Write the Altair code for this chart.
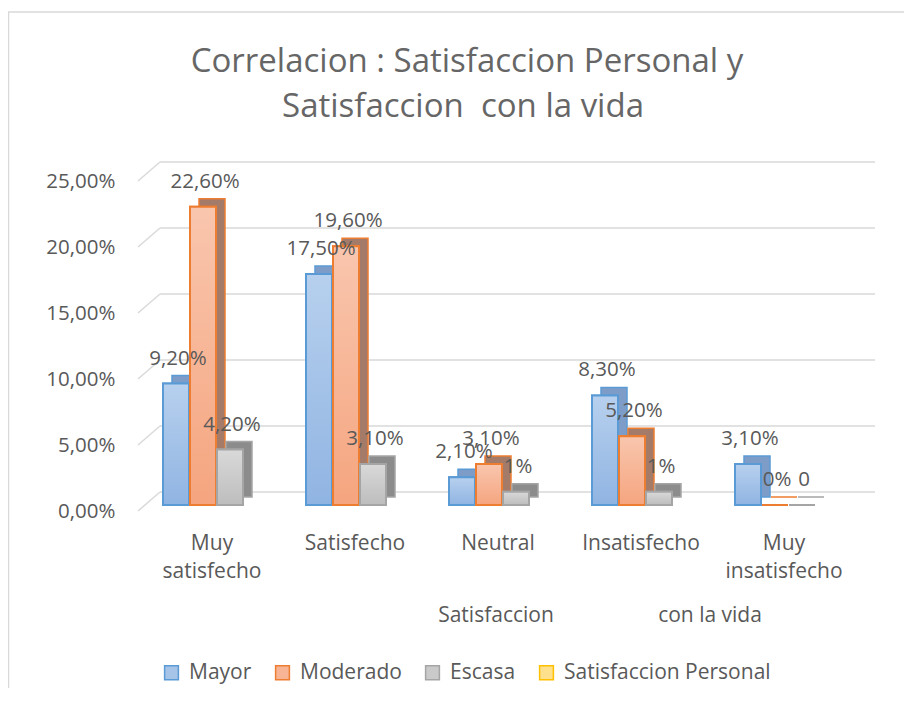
import altair as alt
import pandas as pd

categories = ["Muy satisfecho", "Satisfecho", "Neutral", "Insatisfecho", "Muy insatisfecho"]
series = ["Mayor", "Moderado", "Escasa", "Satisfaccion Personal"]
mayor = [9.2, 17.5, 2.1, 8.3, 3.1]
moderado = [22.6, 19.6, 3.1, 5.2, 0.0]
escasa = [4.2, 3.1, 1.0, 1.0, 0.0]
mayor_labels = ["9,20%", "17,50%", "2,10%", "8,30%", "3,10%"]
moderado_labels = ["22,60%", "19,60%", "3,10%", "5,20%", "0%"]
escasa_labels = ["4,20%", "3,10%", "1%", "1%", "0"]
y_ticks = [0, 5, 10, 15, 20, 25]

title_line1 = "Correlacion : Satisfaccion Personal y"
title_line2 = "Satisfaccion\u00a0 con la vida"
xtitle_part1 = "Satisfaccion"
xtitle_part2 = "con la vida"

FONT = "Open Sans"
GREY = "#595959"
TITLE_GREY = "#666666"
fills = ["#a6c3e8", "#f7b595", "#cacaca", "#ffe08c"]
strokes = ["#5b9bd5", "#ed7d31", "#a5a5a5", "#ffc000"]
grad_top = ["#b7d0ee", "#f9c6ae", "#d9d9d9"]
grad_bot = ["#90b4e2", "#f5a57f", "#bdbdbd"]
backs = ["#7d9dc8", "#a37b68", "#8c8c8c"]
offsets = [-27, 0, 27]

rows = []
for vals, labs, s in [(mayor, mayor_labels, "Mayor"), (moderado, moderado_labels, "Moderado"), (escasa, escasa_labels, "Escasa")]:
    for c, v, l in zip(categories, vals, labs):
        rows.append({"cat": c, "serie": s, "value": v, "label": l})
df = pd.DataFrame(rows)
ticks_df = pd.DataFrame({"tick": y_ticks})
one = pd.DataFrame({"k": [0]})

W, H = 737, 330
xscale = alt.Scale(domain=categories, range=[-6.5, 708.5], paddingInner=0, paddingOuter=0)
yscale = alt.Scale(domain=[0, 25], nice=False, zero=True)

x_axis = alt.Axis(
    title=None, domain=False, ticks=False, tickSize=0, labelAngle=0, grid=False,
    labelExpr="split(datum.label, ' ')", labelFontSize=21, labelFont=FONT,
    labelColor=GREY, labelPadding=27, labelLineHeight=28, labelOffset=9,
)
y_axis = alt.Axis(
    title=None, domain=False, ticks=False, tickSize=0, grid=False, values=y_ticks,
    labelExpr="replace(format(datum.value, '.2f'), '.', ',') + '%'",
    labelFontSize=20.5, labelFont=FONT, labelColor=GREY, labelPadding=23, labelOffset=6,
)

X = alt.X("cat:N", sort=categories, scale=xscale, axis=x_axis)
Y = alt.Y("value:Q", scale=yscale, axis=y_axis)

base = alt.Chart(df)

grid_h = alt.Chart(ticks_df).mark_rule(color="#d9d9d9", strokeWidth=1.5, yOffset=-13).encode(
    y=alt.Y("tick:Q", scale=yscale, axis=y_axis), x=alt.value(22), x2=alt.value(W)
)
grid_d = alt.Chart(ticks_df).mark_rule(color="#d9d9d9", strokeWidth=1.5, yOffset=6, y2Offset=-13).encode(
    y=alt.Y("tick:Q", scale=yscale, axis=y_axis), y2=alt.Y2("tick:Q"), x=alt.value(0), x2=alt.value(22)
)

layers = [grid_h, grid_d]
color_scale_fill = alt.Scale(domain=series, range=fills)
color_scale_stroke = alt.Scale(domain=series, range=strokes)
legend = alt.Legend(
    orient="none", legendX=23, legendY=487, direction="horizontal", title=None,
    symbolType="square", symbolSize=190, symbolStrokeWidth=1.5, labelFontSize=21,
    labelFont=FONT, labelColor=GREY, columnPadding=20, labelOffset=7, padding=0,
    labelLimit=400,
)

for i, s in enumerate(series[:3]):
    sub = base.transform_filter(alt.datum.serie == s)
    back = sub.mark_bar(width=26, xOffset=offsets[i] + 9, yOffset=-8, y2Offset=-8,
                        fill=backs[i], stroke=strokes[i], strokeWidth=1.5).encode(x=X, y=Y)
    front = sub.mark_bar(width=26, xOffset=offsets[i], strokeWidth=2).encode(
        x=X, y=Y,
        fill=alt.Fill("serie:N", scale=color_scale_fill, legend=legend),
        stroke=alt.Stroke("serie:N", scale=color_scale_stroke, legend=legend),
    )
    grad = sub.mark_bar(
        width=26, xOffset=offsets[i], strokeWidth=2, stroke=strokes[i],
        fill=alt.Gradient(gradient="linear", x1=0, x2=0, y1=0, y2=1,
                          stops=[alt.GradientStop(color=grad_top[i], offset=0),
                                 alt.GradientStop(color=grad_bot[i], offset=1)]),
    ).encode(x=X, y=Y)
    layers += [back, front, grad]

for i, s in enumerate(series[:3]):
    sub = base.transform_filter(alt.datum.serie == s)
    txt = sub.mark_text(dy=-25, xOffset=offsets[i] + 2, baseline="middle", fontSize=20.5,
                        font=FONT, color=GREY).encode(x=X, y=Y, text="label:N")
    layers.append(txt)

def label_text(t, x, y, size, color=GREY):
    return alt.Chart(one).mark_text(text=t, fontSize=size, font=FONT, color=color,
                                    align="center", baseline="middle").encode(
        x=alt.value(x), y=alt.value(y))

layers += [
    label_text(title_line1, 329, -113, 33, TITLE_GREY),
    label_text(title_line2, 325, -68, 33, TITLE_GREY),
    label_text(xtitle_part1, 358, 441, 21),
    label_text(xtitle_part2, 572, 441, 21),
]

border_top = alt.Chart(one).mark_rule(color="#d9d9d9", strokeWidth=1.5).encode(
    x=alt.value(-130), x2=alt.value(780), y=alt.value(-163))
border_left = alt.Chart(one).mark_rule(color="#d9d9d9", strokeWidth=1.5).encode(
    x=alt.value(-129.5), y=alt.value(-163), y2=alt.value(530))
layers += [border_top, border_left]

chart = alt.layer(*layers).properties(
    width=W, height=H,
    autosize=alt.AutoSizeParams(type="none"),
    padding={"left": 130, "top": 167, "right": 29, "bottom": 183},
    background="white",
).configure_view(stroke=None)

chart.save("out.html", embed_options={"renderer": "svg", "actions": False})
